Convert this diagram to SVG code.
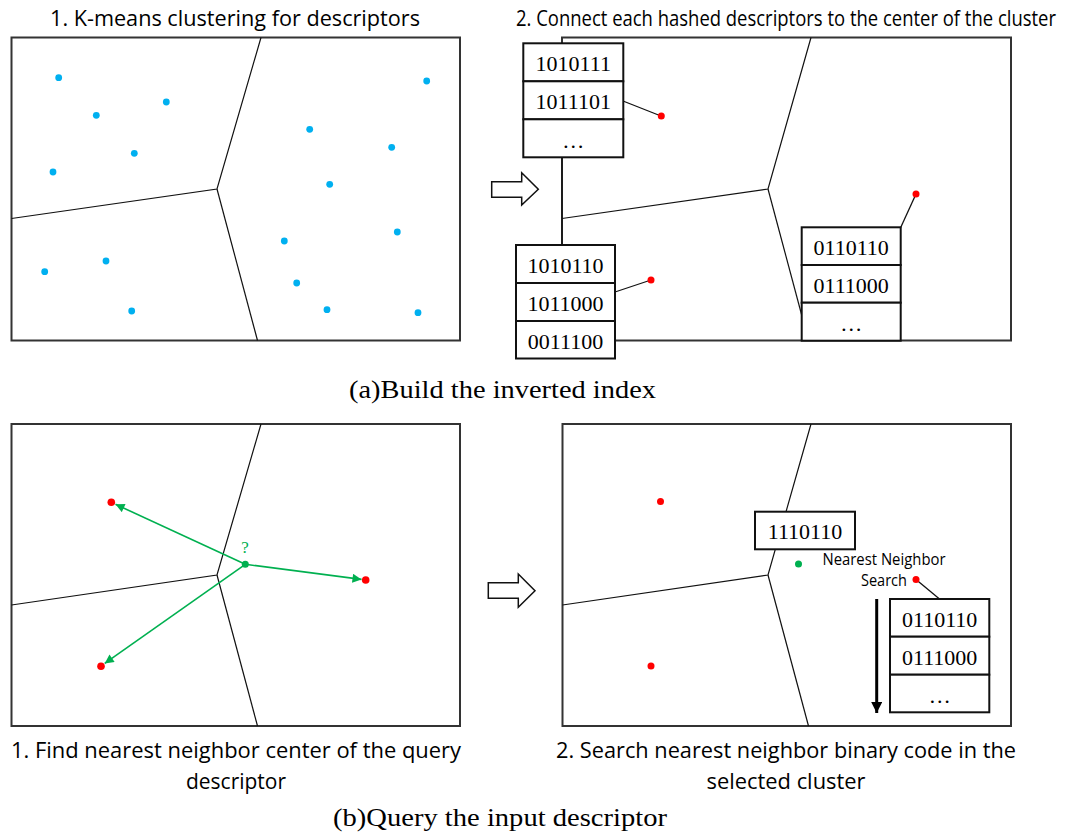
<svg xmlns="http://www.w3.org/2000/svg" width="1066" height="839" viewBox="0 0 1066 839">
<style>
.panel{fill:#fff;stroke:#333;stroke-width:2}
.vor{fill:none;stroke:#111;stroke-width:1.2}
.box{fill:#fff;stroke:#111;stroke-width:2}
.cell{fill:#fff;stroke:#111;stroke-width:2}
.code{font-family:"Liberation Serif","Times New Roman",Tinos,serif;font-size:22px;fill:#000;text-anchor:middle}
.cap{font-family:"Open Sans","Noto Sans",sans-serif;font-size:21px;fill:#000}
.sub{font-family:"Liberation Serif","Times New Roman",Tinos,serif;font-size:25px;fill:#000}
.blue{fill:#00B0F0}
.red{fill:#FF0000}
.grn{fill:#00B050}
.link{stroke:#111;stroke-width:1.3;fill:none}
.garrow{stroke:#00B050;stroke-width:1.6;fill:none}
.hollow{fill:#fff;stroke:#111;stroke-width:1.5}
</style>
<defs>
<marker id="gh" viewBox="0 0 10 10" refX="10" refY="5" markerUnits="userSpaceOnUse" markerWidth="10" markerHeight="9" orient="auto">
<path d="M0,0 L10,5 L0,10 z" fill="#00B050"/>
</marker>
<marker id="bh" viewBox="0 0 10 10" refX="10" refY="5" markerUnits="userSpaceOnUse" markerWidth="13" markerHeight="11" orient="auto">
<path d="M0,0 L10,5 L0,10 z" fill="#000"/>
</marker>
</defs>
<rect width="1066" height="839" fill="#fff"/>

<!-- captions -->
<g id="captions">
<text class="cap" x="235" y="26" text-anchor="middle" textLength="370" lengthAdjust="spacingAndGlyphs">1. K-means clustering for descriptors</text>
<text class="cap" x="786" y="26" text-anchor="middle" textLength="540" lengthAdjust="spacingAndGlyphs">2. Connect each hashed descriptors to the center of the cluster</text>
<text class="sub" x="349" y="398" textLength="307" lengthAdjust="spacingAndGlyphs">(a)Build the inverted index</text>
<text class="cap" x="236" y="758" text-anchor="middle" textLength="450" lengthAdjust="spacingAndGlyphs">1. Find nearest neighbor center of the query</text>
<text class="cap" x="236" y="789" text-anchor="middle" textLength="100" lengthAdjust="spacingAndGlyphs">descriptor</text>
<text class="cap" x="786" y="758" text-anchor="middle" textLength="460" lengthAdjust="spacingAndGlyphs">2. Search nearest neighbor binary code in the</text>
<text class="cap" x="786" y="789" text-anchor="middle" textLength="159" lengthAdjust="spacingAndGlyphs">selected cluster</text>
<text class="sub" x="333" y="826" textLength="334" lengthAdjust="spacingAndGlyphs">(b)Query the input descriptor</text>
</g>

<!-- panel a1 -->
<g id="panel-a1">
<rect class="panel" x="11.5" y="37.5" width="448.5" height="303"/>
<polyline class="vor" points="261,37.5 217,189 11.5,218.5"/>
<line class="vor" x1="217" y1="189" x2="257.5" y2="340.5"/>
<g id="descriptors">
<circle class="blue" cx="58.7" cy="77.7" r="3.4"/>
<circle class="blue" cx="96.3" cy="115.3" r="3.4"/>
<circle class="blue" cx="166.3" cy="102" r="3.4"/>
<circle class="blue" cx="134.3" cy="153.3" r="3.4"/>
<circle class="blue" cx="53" cy="172" r="3.4"/>
<circle class="blue" cx="309.7" cy="129.3" r="3.4"/>
<circle class="blue" cx="391.7" cy="147.3" r="3.4"/>
<circle class="blue" cx="426.7" cy="81" r="3.4"/>
<circle class="blue" cx="329.7" cy="184.3" r="3.4"/>
<circle class="blue" cx="284.3" cy="241" r="3.4"/>
<circle class="blue" cx="397.3" cy="232" r="3.4"/>
<circle class="blue" cx="44.7" cy="271.7" r="3.4"/>
<circle class="blue" cx="106" cy="261" r="3.4"/>
<circle class="blue" cx="131.7" cy="311" r="3.4"/>
<circle class="blue" cx="296.7" cy="283" r="3.4"/>
<circle class="blue" cx="327" cy="309.7" r="3.4"/>
<circle class="blue" cx="418" cy="312.7" r="3.4"/>
</g>
</g>

<!-- arrow a -->
<g id="arrow-a">
<polygon class="hollow" points="491.7,181.7 521.7,181.7 521.7,172.7 538.3,189.3 521.7,205 521.7,197.3 491.7,197.3"/>
</g>

<!-- panel a2 -->
<g id="panel-a2">
<rect class="panel" x="562" y="37.5" width="449" height="303"/>
<polyline class="vor" points="811,37.5 768,189 562,218.5"/>
<line class="vor" x1="768" y1="189" x2="808.5" y2="340.5"/>
</g>

<!-- panel b1 -->
<g id="panel-b1">
<rect class="panel" x="11.5" y="424" width="448.5" height="302"/>
<polyline class="vor" points="261,424 217,575 11.5,605"/>
<line class="vor" x1="217" y1="575" x2="257.5" y2="726"/>
</g>

<!-- arrow b -->
<g id="arrow-b">
<polygon class="hollow" points="488.3,582.7 518.3,582.7 518.3,574 535,590.7 518.3,607.3 518.3,598.3 488.3,598.3"/>
</g>

<!-- panel b2 -->
<g id="panel-b2">
<rect class="panel" x="562.5" y="424" width="448.5" height="302"/>
<polyline class="vor" points="811,424 768,575 562.5,605"/>
<line class="vor" x1="768" y1="575" x2="808.5" y2="726"/>
</g>

<g id="connectors">
<line class="link" x1="623" y1="101" x2="661" y2="116"/>
<line class="link" x1="615" y1="292" x2="651" y2="280"/>
<line class="link" x1="900.7" y1="227.5" x2="916" y2="194"/>
<line class="link" x1="562" y1="157" x2="562" y2="245"/>
<line class="link" x1="916" y1="579.5" x2="939.5" y2="599"/>
<line class="garrow" x1="245.3" y1="564.3" x2="115.5" y2="504.3" marker-end="url(#gh)"/>
<line class="garrow" x1="245.3" y1="564.3" x2="361.5" y2="579.4" marker-end="url(#gh)"/>
<line class="garrow" x1="245.3" y1="564.3" x2="104.7" y2="663.4" marker-end="url(#gh)"/>
<line x1="876.7" y1="599" x2="876.7" y2="713" stroke="#000" stroke-width="3" marker-end="url(#bh)"/>
</g>

<g id="centers-a">
<circle class="red" cx="661.3" cy="116" r="3.5"/>
<circle class="red" cx="651" cy="280" r="3.5"/>
<circle class="red" cx="916" cy="194" r="3.5"/>
</g>

<g id="list-1">
<rect class="cell" x="523.3" y="43.3" width="100" height="38"/>
<rect class="cell" x="523.3" y="81.3" width="100" height="38"/>
<rect class="cell" x="523.3" y="119.3" width="100" height="38"/>
<text class="code" x="573.3" y="71">1010111</text>
<text class="code" x="573.3" y="109">1011101</text>
<text class="code" x="573.3" y="148">…</text>
</g>

<g id="list-2">
<rect class="cell" x="516" y="245" width="99" height="38"/>
<rect class="cell" x="516" y="283" width="99" height="38"/>
<rect class="cell" x="516" y="321" width="99" height="37.5"/>
<text class="code" x="565.5" y="273">1010110</text>
<text class="code" x="565.5" y="311">1011000</text>
<text class="code" x="565.5" y="349">0011100</text>
</g>

<g id="list-3">
<rect class="cell" x="801.7" y="227.3" width="99" height="37.7"/>
<rect class="cell" x="801.7" y="265" width="99" height="37.7"/>
<rect class="cell" x="801.7" y="302.7" width="99" height="38"/>
<text class="code" x="851.2" y="255">0110110</text>
<text class="code" x="851.2" y="293">0111000</text>
<text class="code" x="851.2" y="331">…</text>
</g>

<g id="query-b1">
<circle class="red" cx="111.3" cy="502.3" r="3.8"/>
<circle class="red" cx="365.7" cy="580" r="3.8"/>
<circle class="red" cx="101" cy="666.3" r="3.8"/>
<circle class="grn" cx="245.3" cy="564.3" r="3.5"/>
<text x="245" y="553" font-family="'Liberation Serif','Times New Roman',serif" font-size="17" fill="#00B050" text-anchor="middle">?</text>
</g>

<g id="centers-b2">
<circle class="red" cx="660.5" cy="501.5" r="3.5"/>
<circle class="red" cx="651" cy="666" r="3.5"/>
<circle class="red" cx="916" cy="579.5" r="3.5"/>
<circle class="grn" cx="798.5" cy="564" r="3.5"/>
</g>
<g id="query-code">
<rect class="box" x="755" y="511.7" width="100" height="37.6"/>
<text class="code" x="805" y="539">1110110</text>
</g>
<g id="nn-label">
<text x="884" y="565" font-family="'Open Sans','Noto Sans',sans-serif" font-size="15.5" text-anchor="middle" textLength="123" lengthAdjust="spacingAndGlyphs">Nearest Neighbor</text>
<text x="884" y="586" font-family="'Open Sans','Noto Sans',sans-serif" font-size="15.5" text-anchor="middle" textLength="46" lengthAdjust="spacingAndGlyphs">Search</text>
</g>
<g id="list-4">
<rect class="cell" x="890" y="599" width="99.3" height="37.7"/>
<rect class="cell" x="890" y="636.7" width="99.3" height="38"/>
<rect class="cell" x="890" y="674.7" width="99.3" height="37.6"/>
<text class="code" x="939.7" y="626.5">0110110</text>
<text class="code" x="939.7" y="664.5">0111000</text>
<text class="code" x="939.7" y="703">…</text>
</g>
</svg>
